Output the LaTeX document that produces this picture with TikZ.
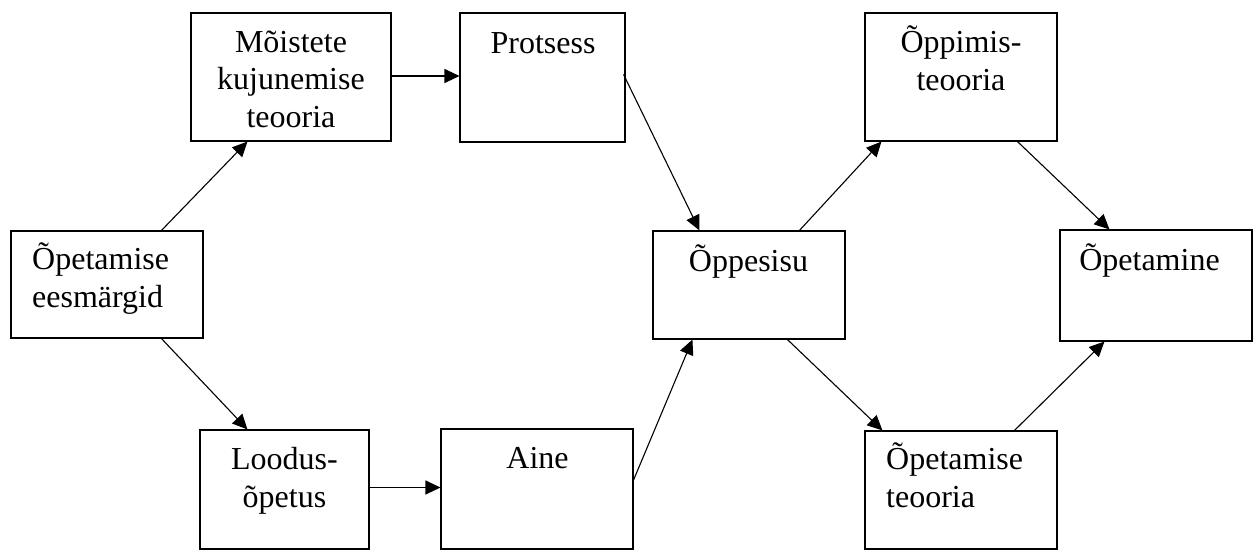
\documentclass[tikz,border=0pt]{standalone}
\usepackage{fontspec}
\setmainfont{Liberation Serif}
\usetikzlibrary{arrows.meta}
\begin{document}
\begin{tikzpicture}[x=1pt,y=-1pt,
  box/.style={draw,line width=1.1pt,inner sep=0pt,minimum width=#1},
  lbl/.style={inner sep=0pt,font=\fontsize{32}{37.5}\selectfont},
  arr/.style={line width=1.1pt,-{Triangle[length=15pt,width=14pt]}}]
\useasboundingbox (0,0) rectangle (1255,550);
% boxes
\node[box=192pt,minimum height=107pt] (A) at (107,284.5) {};
\node[box=200pt,minimum height=128pt] (B) at (291,77) {};
\node[box=165pt,minimum height=129pt] (C) at (542.5,77.5) {};
\node[box=192pt,minimum height=108pt] (D) at (749,285) {};
\node[box=192pt,minimum height=128pt] (E) at (961,77) {};
\node[box=192pt,minimum height=111pt] (F) at (1156,285.5) {};
\node[box=169pt,minimum height=119pt] (G) at (284.5,489.5) {};
\node[box=192pt,minimum height=120pt] (H) at (537,489) {};
\node[box=192pt,minimum height=118pt] (I) at (961,490) {};
% texts (base anchor of a multi-line node = last line's baseline)
\node[lbl,anchor=base west,align=left] (tA) at (32,307) {Õpetamise\\eesmärgid};
\node[lbl,anchor=base,align=center] (tB) at (291,127) {Mõistete\\kujunemise\\teooria};
\node[lbl,anchor=base] (tC) at (543,53) {Protsess};
\node[lbl,anchor=base] (tD) at (748.5,271) {Õppesisu};
\node[lbl,anchor=base,align=center] (tE) at (961,90) {Õppimis-\\teooria};
\node[lbl,anchor=base] (tF) at (1149.5,270) {Õpetamine};
\node[lbl,anchor=base,align=center] (tG) at (284.5,507) {Loodus-\\õpetus};
\node[lbl,anchor=base] (tH) at (537.5,468) {Aine};
\node[lbl,anchor=base west,align=left] (tI) at (886,507) {Õpetamise\\teooria};
% connectors
\draw[arr] ([xshift=151pt]A.north west) -- ([xshift=57pt]B.south west);
\draw[arr] ([yshift=1pt]B.east) -- ([yshift=1pt]B.east -| C.west);
\draw[arr] ([xshift=-2pt,yshift=-62pt]C.north east) -- ([xshift=47pt]D.north west);
\draw[arr] ([xshift=147pt]D.north west) -- ([xshift=17pt]E.south west);
\draw[arr] ([xshift=153pt]E.south west) -- ([xshift=50pt]F.north west);
\draw[arr] ([xshift=151pt]A.south west) -- ([xshift=48pt]G.north west);
\draw[arr] ([yshift=2pt]G.east) -- ([yshift=2pt]G.east -| H.west);
\draw[arr] ([yshift=9pt]H.east) -- ([xshift=40pt]D.south west);
\draw[arr] ([xshift=135pt]D.south west) -- ([xshift=18pt]I.north west);
\draw[arr] ([xshift=150pt]I.north west) -- ([xshift=45pt]F.south west);
\end{tikzpicture}
\end{document}
